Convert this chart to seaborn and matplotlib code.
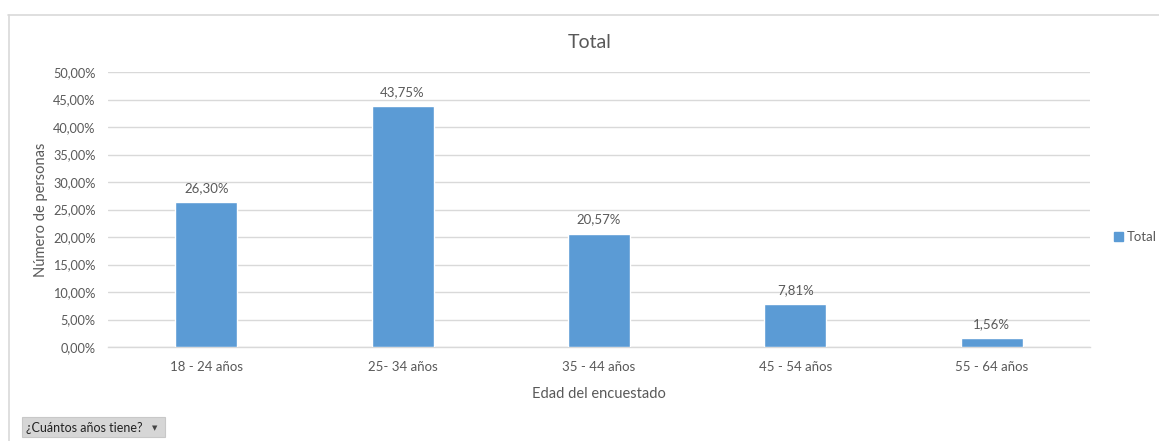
import matplotlib
matplotlib.use("Agg")
import matplotlib.pyplot as plt
from matplotlib.lines import Line2D
from matplotlib.patches import Rectangle
from matplotlib.ticker import MultipleLocator, FuncFormatter
import seaborn as sns
import pandas as pd

# Age groups and share of respondents (%)
categories = ["18 - 24 años", "25- 34 años", "35 - 44 años", "45 - 54 años", "55 - 64 años"]
values = [26.30, 43.75, 20.57, 7.81, 1.56]
series_name = "Total"

df = pd.DataFrame({"edad": categories, "pct": values})

sns.set_theme(style="white")
plt.rcParams["font.family"] = ["Lato", "DejaVu Sans"]

TEXT = "#595959"
GRID = "#D9D9D9"
BAR = "#5B9BD5"

W, H = 1159, 441
fig = plt.figure(figsize=(W / 100, H / 100), dpi=100)
ax = fig.add_axes([108 / W, 1 - 347 / H, (1090 - 108) / W, (347 - 72) / H])

sns.barplot(data=df, x="edad", y="pct", color=BAR, width=0.315, saturation=1,
            ax=ax, zorder=3)

ax.set_ylim(0, 50)
ax.yaxis.set_major_locator(MultipleLocator(5))
ax.yaxis.set_major_formatter(FuncFormatter(lambda v, p: f"{v:.2f}".replace(".", ",") + "%"))
ax.set_xlim(-0.5, len(categories) - 0.5)
ax.grid(axis="y", color=GRID, linewidth=1, zorder=0)
for s in ["top", "right", "left"]:
    ax.spines[s].set_visible(False)
ax.spines["bottom"].set_color(GRID)
ax.spines["bottom"].set_linewidth(1)
ax.tick_params(axis="both", length=0, labelsize=9.5, labelcolor=TEXT)
ax.tick_params(axis="y", pad=9, labelsize=9.2)
ax.tick_params(axis="x", pad=10)

for patch, v in zip(ax.patches, values):
    ax.annotate(f"{v:.2f}".replace(".", ",") + "%",
                (patch.get_x() + patch.get_width() / 2, patch.get_height()),
                xytext=(0, 6), textcoords="offset points",
                ha="center", va="bottom", fontsize=9.5, color=TEXT)

ax.set_xlabel("Edad del encuestado", fontsize=10.5, color=TEXT, labelpad=10)
ax.set_ylabel("Número de personas", fontsize=10.5, color=TEXT)
ax.yaxis.set_label_coords(48 / W, 1 - 210 / H, transform=fig.transFigure)

fig.text(590 / W, 1 - 42 / H, "Total", ha="center", va="center",
         fontsize=14, color=TEXT)

# Legend
ax.legend(handles=[Rectangle((0, 0), 1, 1, color=BAR)], labels=[series_name],
          loc="center left", bbox_to_anchor=(1102 / W, 1 - 237 / H),
          bbox_transform=fig.transFigure, frameon=False, fontsize=9.5,
          handlelength=0.7, handleheight=0.7, handletextpad=0.3,
          labelcolor=TEXT)

# Chart frame
fig.add_artist(Line2D([8 / W, 1], [1 - 14.5 / H] * 2, transform=fig.transFigure,
                      color="#D9D9D9", linewidth=1.2))
fig.add_artist(Line2D([8.5 / W] * 2, [0, 1 - 14.5 / H], transform=fig.transFigure,
                      color="#D9D9D9", linewidth=1.2))

# Field button
fig.add_artist(Rectangle((22 / W, 1 - 437 / H), (165 - 22) / W, 20 / H,
                         transform=fig.transFigure, facecolor="#D6D6D6",
                         edgecolor="#C8C8C8", linewidth=0.8))
fig.text(26 / W, 1 - 428 / H, "¿Cuántos años tiene?", ha="left", va="center",
         fontsize=9, color="#222222")
fig.text(155 / W, 1 - 428 / H, "▼", ha="center", va="center",
         fontsize=5, color="#444444", family="DejaVu Sans")

fig.savefig("out.png", dpi=100)
